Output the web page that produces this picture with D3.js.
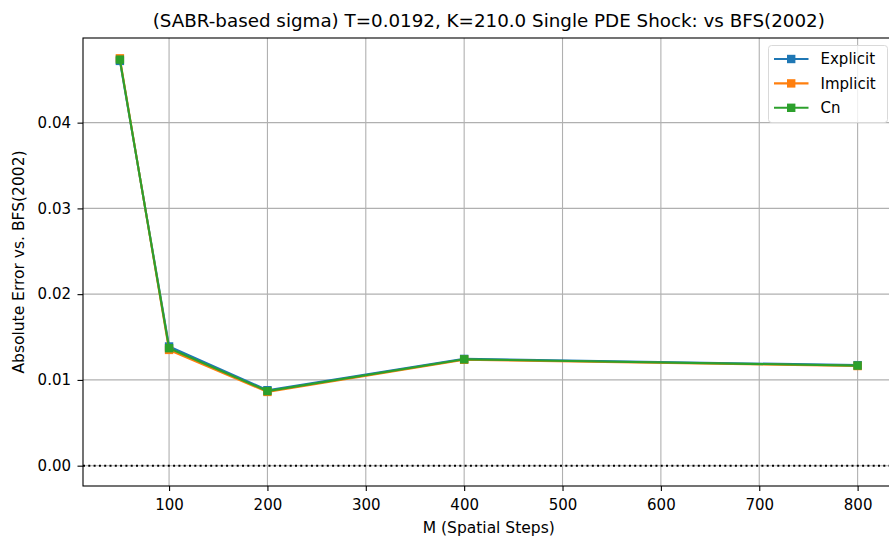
<!DOCTYPE html>
<html lang="en">
<head>
    <meta charset="UTF-8">
    <title>Absolute error vs BFS(2002)</title>
    <script src="https://d3js.org/d3.v7.min.js"></script>
    <style>
        body { margin: 0; background: #fff; }
        text { font-family: "DejaVu Sans", sans-serif; fill: #000; }
    </style>
</head>
<body>
    <div id="chart"></div>

    <script>
        const steps = [50, 100, 200, 400, 800];
        const explicitErr = [0.0472, 0.0139, 0.0088, 0.01245, 0.01172];
        const implicitErr = [0.0475, 0.0135, 0.0086, 0.01235, 0.01162];
        const cnErr = [0.04735, 0.0137, 0.0087, 0.0124, 0.01167];
        const xTicks = [100, 200, 300, 400, 500, 600, 700, 800];
        const yTicks = [0, 0.01, 0.02, 0.03, 0.04];

        const series = [
            { name: "Explicit", values: explicitErr, color: "#1f77b4" },
            { name: "Implicit", values: implicitErr, color: "#ff7f0e" },
            { name: "Cn", values: cnErr, color: "#2ca02c" }
        ];

        const W = 889, H = 540;
        const mLeft = 83, mRight = 894.5, mTop = 38, mBottom = 486;

        const x = d3.scaleLinear().domain([12.5, 837.5]).range([mLeft, mRight]);
        const y = d3.scaleLinear().domain([-0.00237, 0.04987]).range([mBottom, mTop]);

        const svg = d3.select("#chart").append("svg")
            .attr("width", W)
            .attr("height", H);

        svg.append("defs").append("clipPath").attr("id", "plot")
            .append("rect")
            .attr("x", mLeft).attr("y", mTop)
            .attr("width", mRight - mLeft).attr("height", mBottom - mTop);

        // grid
        const grid = svg.append("g").attr("stroke", "#b0b0b0").attr("stroke-width", 1.1);
        grid.selectAll("line.gx").data(xTicks).enter().append("line")
            .attr("x1", d => x(d)).attr("x2", d => x(d))
            .attr("y1", mTop).attr("y2", mBottom);
        grid.selectAll("line.gy").data(yTicks).enter().append("line")
            .attr("x1", mLeft).attr("x2", mRight)
            .attr("y1", d => y(d)).attr("y2", d => y(d));

        // zero line
        svg.append("line")
            .attr("x1", mLeft).attr("x2", mRight)
            .attr("y1", y(0)).attr("y2", y(0))
            .attr("stroke", "#000")
            .attr("stroke-width", 2)
            .attr("stroke-dasharray", "2,3.3");

        // lines + markers
        const plot = svg.append("g").attr("clip-path", "url(#plot)");
        const line = d3.line().x((d, i) => x(steps[i])).y(d => y(d));
        series.forEach(s => {
            plot.append("path")
                .attr("d", line(s.values))
                .attr("fill", "none")
                .attr("stroke", s.color)
                .attr("stroke-width", 2.1);
            plot.selectAll(null).data(s.values).enter().append("rect")
                .attr("x", (d, i) => x(steps[i]) - 4.2)
                .attr("y", d => y(d) - 4.2)
                .attr("width", 8.4).attr("height", 8.4)
                .attr("fill", s.color);
        });

        // axes
        const xAxis = svg.append("g")
            .attr("transform", `translate(0,${mBottom})`)
            .call(d3.axisBottom(x).tickValues(xTicks).tickSize(5).tickPadding(8).tickFormat(d3.format("d")));
        const yAxis = svg.append("g")
            .attr("transform", `translate(${mLeft},0)`)
            .call(d3.axisLeft(y).tickValues(yTicks).tickSize(5.5).tickPadding(6.5).tickFormat(d3.format(".2f")));
        [xAxis, yAxis].forEach(a => {
            a.select(".domain").remove();
            a.selectAll("line").attr("stroke", "#000").attr("stroke-width", 1.1);
            a.selectAll("text").attr("font-size", 15).attr("font-family", "DejaVu Sans");
        });

        // spines
        svg.append("rect")
            .attr("x", mLeft).attr("y", mTop)
            .attr("width", mRight - mLeft).attr("height", mBottom - mTop)
            .attr("fill", "none")
            .attr("stroke", "#000")
            .attr("stroke-width", 1.1);

        // legend
        const lg = svg.append("g");
        const lgX = mRight - 7 - 119, lgY = mTop + 7.5;
        lg.append("rect")
            .attr("x", lgX).attr("y", lgY)
            .attr("width", 119).attr("height", 77)
            .attr("rx", 3)
            .attr("fill", "#fff").attr("fill-opacity", 0.8)
            .attr("stroke", "#d9d9d9").attr("stroke-width", 1);
        series.forEach((s, i) => {
            const cy = lgY + 13.5 + i * 24.4;
            lg.append("line")
                .attr("x1", lgX + 5.5).attr("x2", lgX + 40)
                .attr("y1", cy).attr("y2", cy)
                .attr("stroke", s.color).attr("stroke-width", 2.1);
            lg.append("rect")
                .attr("x", lgX + 22.7 - 4.2).attr("y", cy - 4.2)
                .attr("width", 8.4).attr("height", 8.4)
                .attr("fill", s.color);
            lg.append("text")
                .attr("x", lgX + 52).attr("y", cy)
                .attr("dy", "0.35em")
                .attr("font-size", 15)
                .text(s.name);
        });

        // titles
        svg.append("text")
            .attr("x", (mLeft + mRight) / 2).attr("y", 26.5)
            .attr("text-anchor", "middle")
            .attr("font-size", 18.3)
            .text("(SABR-based sigma) T=0.0192, K=210.0 Single PDE Shock: vs BFS(2002)");
        svg.append("text")
            .attr("x", (mLeft + mRight) / 2).attr("y", 533)
            .attr("text-anchor", "middle")
            .attr("font-size", 15.5)
            .text("M (Spatial Steps)");
        svg.append("text")
            .attr("transform", `translate(24,${(mTop + mBottom) / 2}) rotate(-90)`)
            .attr("text-anchor", "middle")
            .attr("font-size", 15.5)
            .text("Absolute Error vs. BFS(2002)");
    </script>
</body>
</html>
